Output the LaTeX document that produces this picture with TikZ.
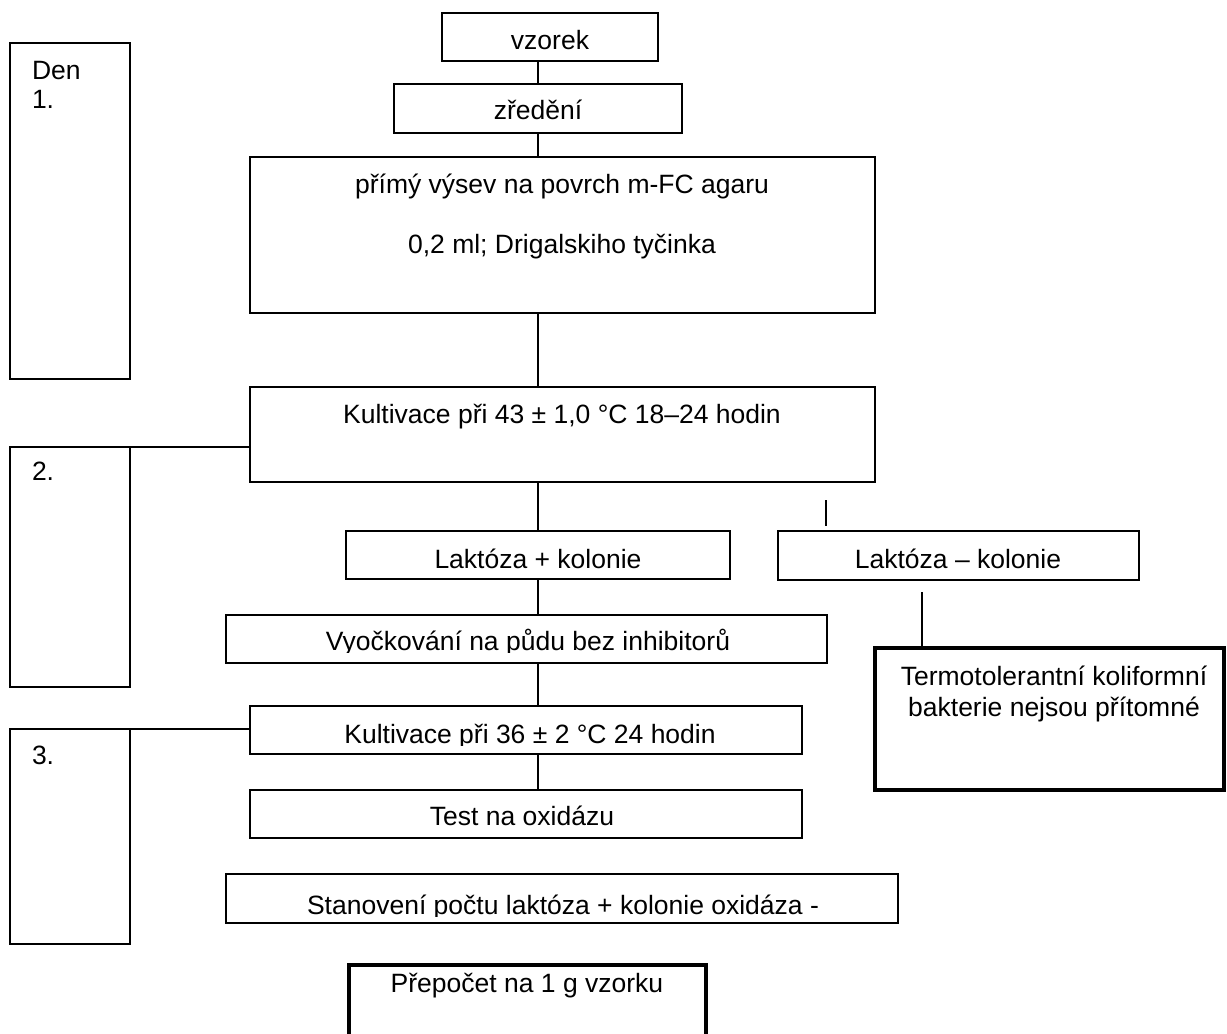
\documentclass[tikz,border=0pt]{standalone}
\usepackage{fontspec}
\setmainfont{Liberation Sans}
\begin{document}
\begin{tikzpicture}[x=1pt,y=-1pt,
  box/.style={draw, line width=1.3pt, inner sep=0pt, outer sep=0pt},
  thickbox/.style={draw, line width=4.5pt, inner sep=0pt, outer sep=0pt},
  txt/.style={inner sep=0pt, outer sep=0pt, font=\fontsize{26.5}{31}\selectfont},
  conn/.style={line width=1.3pt}]
\useasboundingbox (0,0) rectangle (1227,1034);
\newcommand\mybox[6]{\node[#1, minimum width={#5-#3}, minimum height={#6-#4}] (#2) at ({(#3+#5)/2},{(#4+#6)/2}) {};}
% day boxes
\mybox{box}{day1}{10}{43}{130}{379}
\mybox{box}{day2}{10}{447}{130}{687}
\mybox{box}{day3}{10}{729}{130}{944}
% flow boxes
\mybox{box}{vzorek}{442}{13}{658}{61}
\mybox{box}{zredeni}{394}{84}{682}{133}
\mybox{box}{primy}{250}{157}{875}{313}
\mybox{box}{kult43}{250}{387}{875}{482}
\mybox{box}{lakplus}{346}{531}{730}{579}
\mybox{box}{lakminus}{778}{531}{1139}{580}
\mybox{thickbox}{termo}{875}{648}{1224}{790}
\mybox{box}{vyock}{226}{615}{827}{663}
\mybox{box}{kult36}{250}{706}{802}{754}
\mybox{box}{test}{250}{790}{802}{838}
\mybox{box}{stanov}{226}{874}{898}{923}
\mybox{thickbox}{prepocet}{349}{965}{706}{1045}
% texts
\node[txt, anchor=base west] (tden) at (32,79) {Den};
\node[txt, anchor=base west] (tden1) at (32,108) {1.};
\node[txt, anchor=base west] (tden2) at (32,480) {2.};
\node[txt, anchor=base west] (tden3) at (32,764) {3.};
\node[txt, anchor=base] (tvzorek) at (550,49) {vzorek};
\node[txt, anchor=base] (tzredeni) at (538,119) {zředění};
\node[txt, anchor=base] (tprimy1) at (562,193) {přímý výsev na povrch m-FC agaru};
\node[txt, anchor=base] (tprimy2) at (562,253) {0,2 ml; Drigalskiho tyčinka};
\node[txt, anchor=base] (tkult43) at (562,423) {Kultivace při 43 ± 1,0 °C 18–24 hodin};
\node[txt, anchor=base] (tlakplus) at (538,568) {Laktóza + kolonie};
\node[txt, anchor=base] (tlakminus) at (958,568) {Laktóza – kolonie};
\node[txt, anchor=base] (ttermo1) at (1054,685) {Termotolerantní koliformní};
\node[txt, anchor=base] (ttermo2) at (1054,716) {bakterie nejsou přítomné};
\begin{scope}
\clip (226,600) rectangle (827,652.5);
\node[txt, anchor=base] (tvyock) at (528,650) {Vyočkování na půdu bez inhibitorů};
\end{scope}
\begin{scope}
\clip (250,690) rectangle (802,745.5);
\node[txt, anchor=base] (tkult36) at (530,743) {Kultivace při 36 ± 2 °C 24 hodin};
\end{scope}
\node[txt, anchor=base] (ttest) at (522,825) {Test na oxidázu};
\begin{scope}
\clip (226,860) rectangle (898,916.5);
\node[txt, anchor=base] (tstanov) at (563,914) {Stanovení počtu laktóza + kolonie oxidáza -};
\end{scope}
\node[txt, anchor=base] (tprepocet) at (527,992) {Přepočet na 1 g vzorku};
% connectors
\draw[conn] (vzorek.south -| zredeni.north) -- (zredeni.north);
\draw[conn] (zredeni.south) -- (zredeni.south |- primy.north);
\draw[conn] (zredeni.south |- primy.south) -- (zredeni.south |- kult43.north);
\draw[conn] (lakplus.north |- kult43.south) -- (lakplus.north);
\draw[conn] (lakplus.south) -- (lakplus.south |- vyock.north);
\draw[conn] (lakplus.south |- vyock.south) -- (lakplus.south |- kult36.north);
\draw[conn] (lakplus.south |- kult36.south) -- (lakplus.south |- test.north);
\coordinate (f1) at (826,500);
\coordinate (f2) at (826,526);
\draw[conn] (f1) -- (f2);
\coordinate (m1) at (922,592);
\draw[conn] (m1) -- (m1 |- termo.north);
\draw[conn] (day2.north east) -- (day2.north east -| kult43.west);
\draw[conn] (day3.north east) -- (day3.north east -| kult36.west);
\end{tikzpicture}
\end{document}
